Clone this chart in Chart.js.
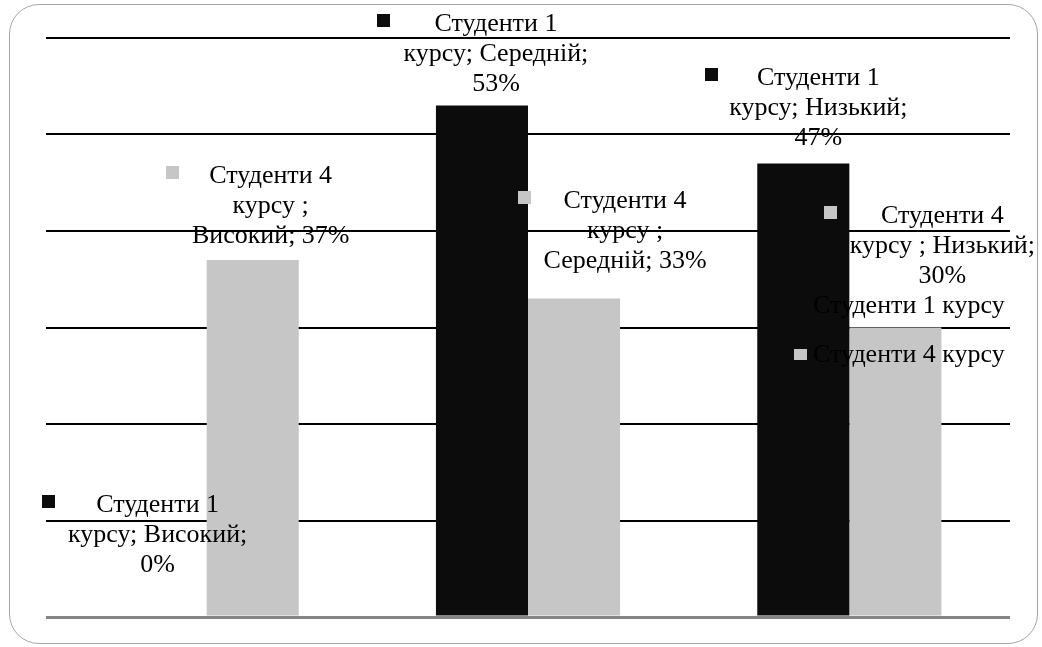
<!DOCTYPE html>
<html>
<head>
<meta charset="utf-8">
<script src="https://cdn.jsdelivr.net/npm/chart.js@4/dist/chart.umd.min.js"></script>
<style>
  html, body { margin: 0; padding: 0; background: #fff; }
  #wrap { position: relative; width: 1042px; height: 647px; }
  #frame { position: absolute; left: 9px; top: 4px; width: 1029px; height: 640px;
           border: 1.5px solid #a6a6a6; border-radius: 30px; box-sizing: border-box; }
  canvas { position: absolute; left: 0; top: 0; }
</style>
</head>
<body>
<div id="wrap">
  <div id="frame"></div>
  <canvas id="c" width="1042" height="647"></canvas>
</div>
<script>
// ---- data ----
const categories = ["Високий", "Середній", "Низький"];
const seriesNames = ["Студенти 1 курсу", "Студенти 4 курсу "];
const course1 = [0, 53, 47];
const course4 = [37, 33, 30];
const yTicks = [0, 10, 20, 30, 40, 50, 60];

// ---- style / layout (not data) ----
const colors = ["#0c0c0c", "#c6c6c6"];
const FONT = '26px "Liberation Serif", "Times New Roman", serif';
const LINE_H = 30;
// per label: [dx from bar centre, gap of last baseline above bar top, words per line, key gap]
const labelLayout = [
  [ [-3, 45, [2,2,1], 54], [14, 15, [2,2,1], 58], [15, 18, [2,2,1], 52] ],
  [ [18, 17, [2,2,2], 43], [51, 31, [2,2,2], 46], [47, 45, [2,3,1], 57] ]
];

const labelPlugin = {
  id: 'excelLabels',
  afterDatasetsDraw(chart) {
    const ctx = chart.ctx;
    ctx.save();
    ctx.font = FONT;
    ctx.fillStyle = '#000';
    ctx.textBaseline = 'alphabetic';
    chart.data.datasets.forEach((ds, si) => {
      const meta = chart.getDatasetMeta(si);
      meta.data.forEach((bar, ci) => {
        const [dx, gap, wpl, keyGap] = labelLayout[si][ci];
        const text = ds.label + '; ' + categories[ci] + '; ' + ds.data[ci] + '%';
        const words = text.split(' ');
        const lines = [];
        let k = 0;
        wpl.forEach(n => { lines.push(words.slice(k, k + n).join(' ')); k += n; });
        const cx = bar.x + dx;
        const lastBase = bar.y - gap;
        ctx.textAlign = 'center';
        lines.forEach((ln, li) => {
          const by = lastBase - (lines.length - 1 - li) * LINE_H;
          ctx.fillStyle = '#000';
          ctx.fillText(ln, cx, by);
          if (li === 0) {
            const w = ctx.measureText(ln).width;
            const left = cx - w / 2;
            ctx.fillStyle = colors[si];
            ctx.fillRect(Math.round(left - keyGap), Math.round(by - 17), 13, 13);
          }
        });
      });
    });
    // legend
    ctx.textAlign = 'left';
    const legX = chart.chartArea.right - 216, legY0 = 313;
    seriesNames.forEach((n, i) => {
      const y = legY0 + i * 49;
      ctx.fillStyle = colors[i];
      ctx.fillRect(legX, y - 13, 13, 11);
      ctx.fillStyle = '#000';
      ctx.fillText(n.trim(), legX + 19, y);
    });
    ctx.restore();
  }
};

new Chart(document.getElementById('c'), {
  type: 'bar',
  data: {
    labels: categories,
    datasets: [
      { label: seriesNames[0], data: course1, backgroundColor: colors[0] },
      { label: seriesNames[1], data: course4, backgroundColor: colors[1] }
    ]
  },
  options: {
    responsive: false,
    animation: false,
    events: [],
    layout: { padding: { left: 46, right: 32, top: 38, bottom: 30 } },
    datasets: { bar: { categoryPercentage: 0.573, barPercentage: 1.0 } },
    plugins: { legend: { display: false }, tooltip: { enabled: false }, title: { display: false } },
    scales: {
      x: { display: false },
      y: {
        min: yTicks[0], max: yTicks[yTicks.length - 1],
        afterBuildTicks: (s) => { s.ticks = yTicks.map(v => ({ value: v })); },
        ticks: { display: false },
        border: { display: false },
        grid: {
          drawTicks: false,
          color: (c) => c.tick && c.tick.value === 0 ? '#858585' : '#000',
          lineWidth: (c) => c.tick && c.tick.value === 0 ? 3 : 2
        }
      }
    }
  },
  plugins: [labelPlugin]
});
</script>
</body>
</html>
